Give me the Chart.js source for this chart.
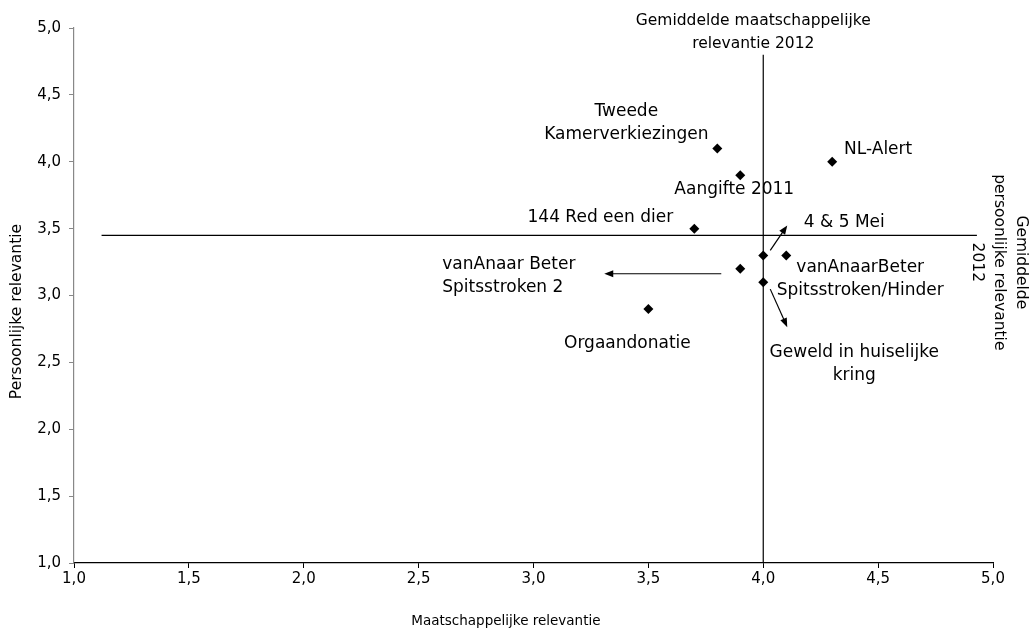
<!DOCTYPE html>
<html>
<head>
<meta charset="utf-8">
<script src="https://cdn.jsdelivr.net/npm/chart.js@4/dist/chart.umd.min.js"></script>
<style>
  html, body { margin: 0; padding: 0; background: #fff; }
  #c { display: block; }
</style>
</head>
<body>
<canvas id="c" width="1029" height="633"></canvas>
<script>
// campagnes, met labels in regels zoals in de figuur
const campagnes = [
  ['Tweede', 'Kamerverkiezingen'],
  ['Aangifte 2011'],
  ['NL-Alert'],
  ['144 Red een dier'],
  ['4 & 5 Mei'],
  ['vanAnaarBeter', 'Spitsstroken/Hinder'],
  ['vanAnaar Beter', 'Spitsstroken 2'],
  ['Geweld in huiselijke', 'kring'],
  ['Orgaandonatie']
];
const maatschappelijk = [3.8, 3.9, 4.3, 3.7, 4.0, 4.1, 3.9, 4.0, 3.5];
const persoonlijk     = [4.1, 3.9, 4.0, 3.5, 3.3, 3.3, 3.2, 3.1, 2.9];

const gemMaatschappelijk = 4.0;   // verticale lijn
const gemPersoonlijk = 3.45;      // horizontale lijn
const horLijnX = [1.12, 4.93];
const vertLijnY = [1.0, 4.8];

const asMin = 1.0, asMax = 5.0, asStap = 0.5;
const labelGemX = ['Gemiddelde maatschappelijke', 'relevantie 2012'];
const labelGemY = ['Gemiddelde', 'persoonlijke relevantie', '2012'];
const titelX = 'Maatschappelijke relevantie';
const titelY = 'Persoonlijke relevantie';

const FONT = "'DejaVu Sans', Verdana, sans-serif";
const fmt = v => v.toFixed(1).replace('.', ',');

// label offsets (px) t.o.v. het punt: dx, dy van de eerste regel, uitlijning
const labelPos = [
  { dx: -91, dy: -37, align: 'center' },
  { dx: -6,  dy: 14,  align: 'center' },
  { dx: 46,  dy: -12, align: 'center' },
  { dx: -94, dy: -11, align: 'center' },
  { dx: 81,  dy: -33, align: 'center' },
  { dx: 74,  dy: 12,  align: 'center' },
  { dx: -298, dy: -4, align: 'left' },
  { dx: 91,  dy: 70,  align: 'center' },
  { dx: -21, dy: 35,  align: 'center' }
];
const arrows = { 4: [7, -5, 24, -30], 6: [-19, 5, -136, 5], 7: [7, 7, 24, 45] };

function arrow(ctx, x1, y1, x2, y2) {
  const a = Math.atan2(y2 - y1, x2 - x1), L = 9, W = 3.5;
  ctx.beginPath();
  ctx.moveTo(x1, y1);
  ctx.lineTo(x2 - Math.cos(a) * L * 0.8, y2 - Math.sin(a) * L * 0.8);
  ctx.stroke();
  ctx.beginPath();
  ctx.moveTo(x2, y2);
  ctx.lineTo(x2 - Math.cos(a) * L - Math.sin(a) * W, y2 - Math.sin(a) * L + Math.cos(a) * W);
  ctx.lineTo(x2 - Math.cos(a) * L + Math.sin(a) * W, y2 - Math.sin(a) * L - Math.cos(a) * W);
  ctx.closePath();
  ctx.fill();
}

const annotaties = {
  id: 'annotaties',
  afterDatasetsDraw(chart) {
    const ctx = chart.ctx;
    const pts = chart.getDatasetMeta(0).data;
    const xs = chart.scales.x, ys = chart.scales.y;
    const area = chart.chartArea;
    ctx.save();
    ctx.fillStyle = '#000';
    ctx.strokeStyle = '#000';
    ctx.lineWidth = 1.2;
    ctx.font = '17px ' + FONT;
    ctx.textBaseline = 'middle';
    campagnes.forEach((lines, i) => {
      const p = pts[i], pos = labelPos[i];
      ctx.textAlign = pos.align;
      lines.forEach((t, j) => ctx.fillText(t, p.x + pos.dx, p.y + pos.dy + j * 23));
      if (arrows[i]) {
        const a = arrows[i];
        arrow(ctx, p.x + a[0], p.y + a[1], p.x + a[2], p.y + a[3]);
      }
    });
    // label gemiddelde maatschappelijke relevantie
    ctx.font = '15.5px ' + FONT;
    ctx.textAlign = 'center';
    const gx = xs.getPixelForValue(gemMaatschappelijk) - 10;
    labelGemX.forEach((t, j) => ctx.fillText(t, gx, 21 + j * 23));
    // astitels
    ctx.font = '13.5px ' + FONT;
    ctx.fillText(titelX, area.left + (area.right - area.left) * 0.47, 621);
    ctx.save();
    ctx.font = '15.5px ' + FONT;
    ctx.translate(17, area.top + (area.bottom - area.top) * 0.53);
    ctx.rotate(-Math.PI / 2);
    ctx.fillText(titelY, 0, 0);
    ctx.restore();
    // label gemiddelde persoonlijke relevantie (gedraaid)
    ctx.font = '15.5px ' + FONT;
    ctx.translate(area.right + 6, ys.getPixelForValue(gemPersoonlijk) + 27);
    ctx.rotate(Math.PI / 2);
    labelGemY.forEach((t, j) => ctx.fillText(t, 0, (j - 1) * 22));
    ctx.restore();
  }
};

new Chart(document.getElementById('c'), {
  type: 'scatter',
  data: {
    datasets: [
      {
        data: maatschappelijk.map((x, i) => ({ x, y: persoonlijk[i] })),
        pointStyle: 'rectRot', pointRadius: 5, pointHoverRadius: 5,
        backgroundColor: '#000', borderColor: '#000', borderWidth: 0
      },
      {
        type: 'line',
        data: horLijnX.map(x => ({ x, y: gemPersoonlijk })),
        borderColor: '#000', borderWidth: 1.2, pointRadius: 0, fill: false
      },
      {
        type: 'line',
        data: vertLijnY.map(y => ({ x: gemMaatschappelijk, y })),
        borderColor: '#000', borderWidth: 1.2, pointRadius: 0, fill: false
      }
    ]
  },
  options: {
    responsive: false,
    animation: false,
    events: [],
    layout: { padding: { top: 28, right: 36, left: 0, bottom: 0 } },
    plugins: { legend: { display: false }, tooltip: { enabled: false } },
    scales: {
      x: {
        type: 'linear', min: asMin, max: asMax,
        afterFit: s => { s.height = 70; },
        ticks: { stepSize: asStap, callback: fmt, color: '#000', padding: 2, font: { family: FONT, size: 15 } },
        grid: { drawOnChartArea: false, drawTicks: true, tickLength: 5, color: '#000' },
        border: { display: true, color: '#000', width: 1.2 },
        title: { display: false }
      },
      y: {
        type: 'linear', min: asMin, max: asMax,
        afterFit: s => { s.width = 74; },
        ticks: { stepSize: asStap, callback: fmt, color: '#000', padding: 8, font: { family: FONT, size: 15 } },
        grid: { drawOnChartArea: false, drawTicks: true, tickLength: 5, color: '#888' },
        border: { display: true, color: '#888', width: 1.2 },
        title: { display: false }
      }
    }
  },
  plugins: [annotaties]
});
</script>
</body>
</html>
